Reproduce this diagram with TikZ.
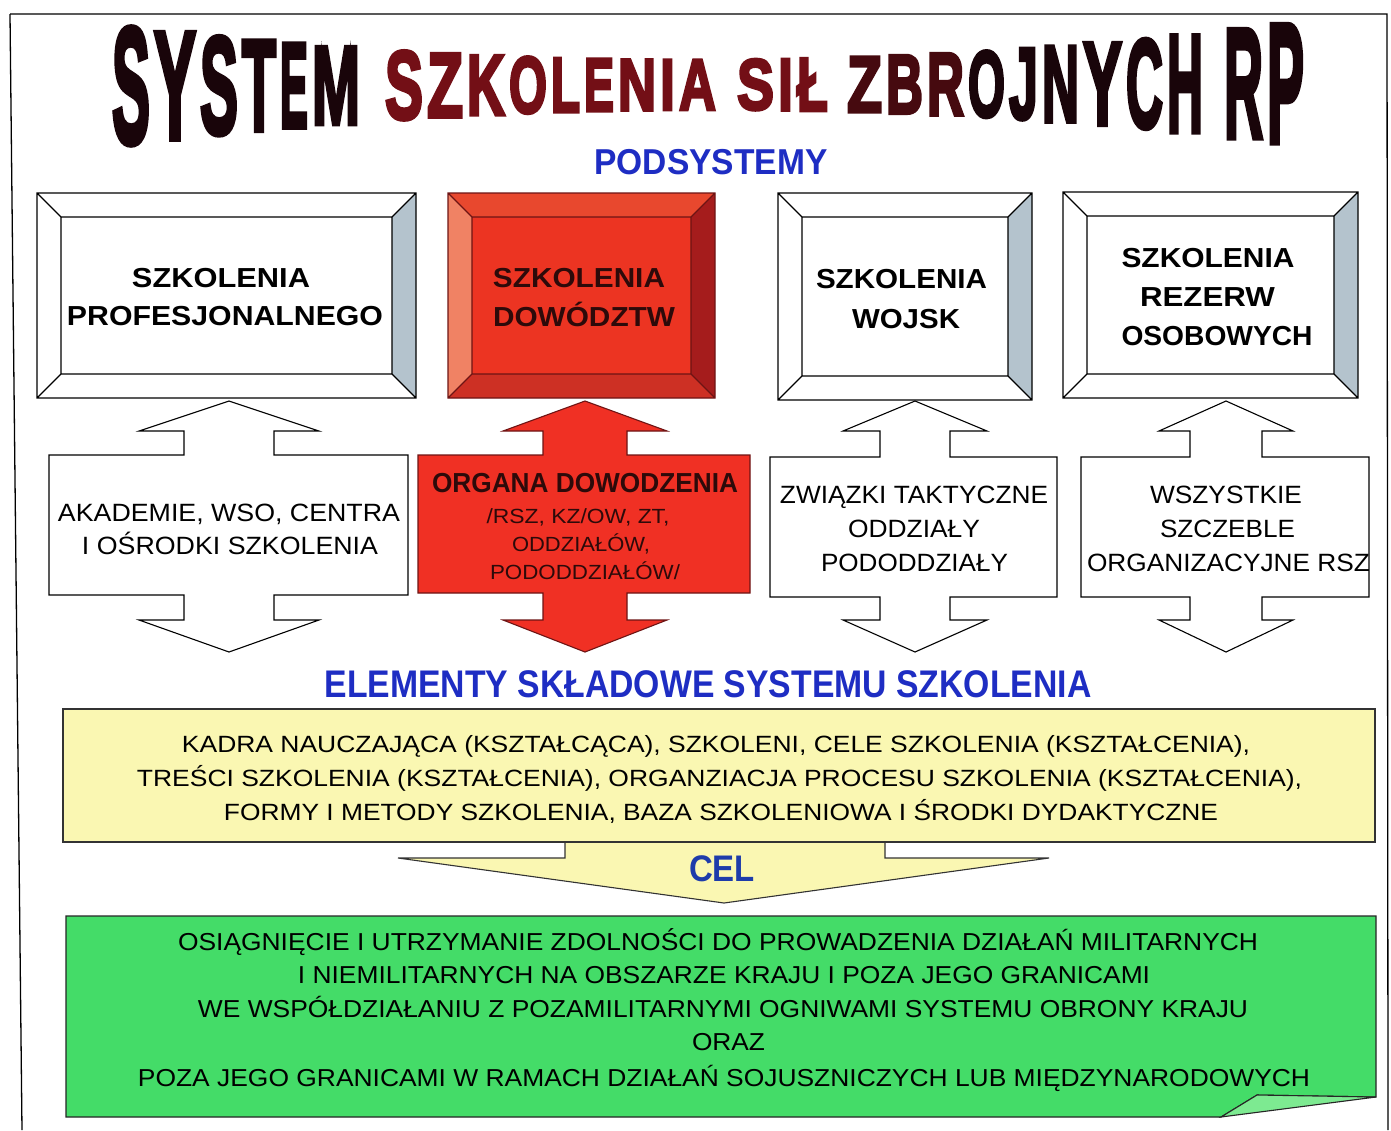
\documentclass[tikz,border=0pt]{standalone}
\usepackage{graphicx}
\usepackage{fontspec}
\setmainfont{Liberation Sans}
\newfontfamily\titlefont[FakeBold=4]{Liberation Sans Bold}
\definecolor{hblue}{RGB}{30,45,195}
\definecolor{celblue}{RGB}{30,60,170}
\definecolor{tc1}{RGB}{25,5,10}
\definecolor{tc2}{RGB}{115,15,22}
\definecolor{tc3}{RGB}{70,10,15}
\definecolor{bgrey}{RGB}{180,195,205}
\definecolor{rcenter}{RGB}{236,52,34}
\definecolor{rleft}{RGB}{240,130,100}
\definecolor{rtop}{RGB}{232,72,46}
\definecolor{rright}{RGB}{165,28,28}
\definecolor{rbottom}{RGB}{205,48,36}
\definecolor{rline}{RGB}{110,20,20}
\definecolor{rarrow}{RGB}{240,48,36}
\definecolor{yell}{RGB}{250,247,178}
\definecolor{grn}{RGB}{68,220,104}
\definecolor{grnflap}{RGB}{125,234,145}
\definecolor{rtext}{RGB}{45,10,10}
\newcommand\fw[2]{\resizebox{#1pt}{\height}{#2}}
\newcommand\bevelbox[9]{%
 \fill[#5] (#1,#2) -- (#3,#2) -- (#3-24,#2+24) -- (#1+24,#2+24) -- cycle;
 \fill[#6] (#1,#2) -- (#1+24,#2+24) -- (#1+24,#4-24) -- (#1,#4) -- cycle;
 \fill[#7] (#3,#2) -- (#3-24,#2+24) -- (#3-24,#4-24) -- (#3,#4) -- cycle;
 \fill[#8] (#1,#4) -- (#1+24,#4-24) -- (#3-24,#4-24) -- (#3,#4) -- cycle;
 \fill[#9] (#1+24,#2+24) rectangle (#3-24,#4-24);
 \draw[bevline] (#1,#2) rectangle (#3,#4) (#1+24,#2+24) rectangle (#3-24,#4-24)
   (#1,#2) -- (#1+24,#2+24) (#3,#2) -- (#3-24,#2+24) (#1,#4) -- (#1+24,#4-24) (#3,#4) -- (#3-24,#4-24);}
\newcommand\darrow[8]{%
 \draw[#1] (#6,401) -- (#6+#8,431) -- (#6+#7,431) -- (#6+#7,#4) -- (#3,#4) -- (#3,#5) -- (#6+#7,#5) -- (#6+#7,620) -- (#6+#8,620) -- (#6,652) -- (#6-#8,620) -- (#6-#7,620) -- (#6-#7,#5) -- (#2,#5) -- (#2,#4) -- (#6-#7,#4) -- (#6-#7,431) -- (#6-#8,431) -- cycle;}
\tikzset{
 frameline/.style={line width=1.3pt, black},
 bevline/.style={draw=black, line width=1.1pt},
 whitearrow/.style={fill=white, draw=black, line width=1.1pt},
 redarrow/.style={fill=rarrow, draw=rline, line width=1.1pt},
 txt/.style={inner sep=0pt, anchor=base},
 lab/.style={txt, font=\fontsize{27.5}{30}\selectfont\bfseries},
 mid/.style={txt, font=\fontsize{25}{28}\selectfont},
 redsmall/.style={txt, font=\fontsize{20.5}{24}\selectfont, text=rtext},
 head/.style={txt, font=\fontsize{36}{40}\selectfont\bfseries, text=hblue},
 body/.style={txt, font=\fontsize{23.5}{26}\selectfont},
 gbody/.style={txt, font=\fontsize{24.5}{28}\selectfont},
}
\begin{document}
\begin{tikzpicture}[x=1pt,y=-1pt]
\useasboundingbox (0,0) rectangle (1391,1130);
\fill[white] (0,0) rectangle (1391,1130);
% outer frame
\draw[frameline] (10,14) -- (1387,14) -- (1388,1130);
\draw[frameline] (10,14) -- (22,1130);
% title
\foreach \ch/\a/\b/\c in {S/110/152/tc1, Y/152/198/tc1, S/198/240/tc1, T/240/278/tc1, E/278/310/tc1, M/310/362/tc1,
  S/383/425/tc2, Z/425/465/tc2, K/465/507/tc2, O/507/549/tc2, L/549/582/tc2, E/582/616/tc2, N/616/658/tc2, I/658/677/tc2, A/677/718/tc2,
  S/735/776/tc2, I/776/795/tc2, Ł/795/830/tc2,
  Z/845/884/tc3, B/884/925/tc3, R/925/966/tc3, O/966/1007/tc1, J/1007/1040/tc1, N/1040/1081/tc1, Y/1081/1124/tc1, C/1124/1165/tc1, H/1165/1205/tc1,
  R/1222/1265/tc1, P/1265/1306/tc1}{
  \pgfmathsetmacro\xc{(\a+\b)/2}
  \pgfmathsetmacro\ww{\b-\a-4}
  \pgfmathsetmacro\hh{50+66*((\xc-705)/577)*((\xc-705)/577)}
  \pgfmathsetmacro\yc{86-(\xc-110)*0.002}
  \node[inner sep=0pt, text=\c] (t\a) at (\xc,\yc) {\resizebox{\ww pt}{\hh pt}{\titlefont \ch}};
}
\node[head] (pod) at (711,174) {\fw{233}{PODSYSTEMY}};
% top bevel boxes
\bevelbox{37}{193}{416}{398}{white}{white}{bgrey}{white}{white}
\begin{scope}[bevline/.style={draw=rline, line width=1.1pt}]
\bevelbox{448}{193}{715}{398}{rtop}{rleft}{rright}{rbottom}{rcenter}
\end{scope}
\bevelbox{778}{193}{1032}{400}{white}{white}{bgrey}{white}{white}
\bevelbox{1063}{192}{1358}{398}{white}{white}{bgrey}{white}{white}
\node[lab] (b1a) at (221,287) {\fw{178}{SZKOLENIA}};
\node[lab] (b1b) at (225,325) {\fw{316}{PROFESJONALNEGO}};
\node[lab, text=rtext] (b2a) at (579,287) {\fw{172}{SZKOLENIA}};
\node[lab, text=rtext] (b2b) at (584,326) {\fw{182}{DOWÓDZTW}};
\node[lab] (b3a) at (901.5,288) {\fw{171}{SZKOLENIA}};
\node[lab] (b3b) at (906,328) {\fw{108}{WOJSK}};
\node[lab] (b4a) at (1208,267) {\fw{173}{SZKOLENIA}};
\node[lab] (b4b) at (1207.5,306) {\fw{135}{REZERW}};
\node[lab] (b4c) at (1217,345) {\fw{191}{OSOBOWYCH}};
% double arrows
\darrow{whitearrow}{49}{408}{455}{595}{229}{45}{90}
\darrow{redarrow}{418}{750}{455}{593}{585}{42}{82}
\darrow{whitearrow}{770}{1057}{457}{597}{915}{35}{72}
\darrow{whitearrow}{1081}{1369}{457}{597}{1226}{36}{67}
\node[mid] (a1a) at (229,521) {\fw{342}{AKADEMIE, WSO, CENTRA}};
\node[mid] (a1b) at (230,554) {\fw{296}{I OŚRODKI SZKOLENIA}};
\node[lab, text=rtext] (a2a) at (585,492) {\fw{306}{ORGANA DOWODZENIA}};
\node[redsmall] (a2b) at (578,523) {\fw{183}{/RSZ, KZ/OW, ZT,}};
\node[redsmall] (a2c) at (581,551) {\fw{138}{ODDZIAŁÓW,}};
\node[redsmall] (a2d) at (585,579) {\fw{190}{PODODDZIAŁÓW/}};
\node[mid] (a3a) at (914,503) {\fw{268}{ZWIĄZKI TAKTYCZNE}};
\node[mid] (a3b) at (914,537) {\fw{132}{ODDZIAŁY}};
\node[mid] (a3c) at (914.5,571) {\fw{187}{PODODDZIAŁY}};
\node[mid] (a4a) at (1226,503) {\fw{152}{WSZYSTKIE}};
\node[mid] (a4b) at (1227.5,537) {\fw{135}{SZCZEBLE}};
\node[mid] (a4c) at (1228.5,571) {\fw{283}{ORGANIZACYJNE RSZ}};
% elements heading
\node[txt, font=\fontsize{38.5}{42}\selectfont\bfseries, text=hblue] (elem) at (708,697) {\fw{767}{ELEMENTY SKŁADOWE SYSTEMU SZKOLENIA}};
% yellow box and CEL arrow
\fill[yell] (565,840) -- (565,858) -- (398,858) -- (724,903) -- (1049,858) -- (885,858) -- (885,840) -- cycle;
\draw[line width=1.1pt, black!80] (565,842) -- (565,858) -- (398,858) -- (724,903) -- (1049,858) -- (885,858) -- (885,842);
\draw[fill=yell, draw=black!80, line width=1.1pt] (63,709) rectangle (1375,842);
\node[txt, font=\fontsize{37}{40}\selectfont\bfseries, text=celblue] (cel) at (722,881) {\fw{66}{CEL}};
\node[body] (y1) at (716,752.5) {\fw{1068}{KADRA NAUCZAJĄCA (KSZTAŁCĄCA), SZKOLENI, CELE SZKOLENIA (KSZTAŁCENIA),}};
\node[body] (y2) at (719.5,786.5) {\fw{1165}{TREŚCI SZKOLENIA (KSZTAŁCENIA), ORGANZIACJA PROCESU SZKOLENIA (KSZTAŁCENIA),}};
\node[body] (y3) at (721,820.5) {\fw{994}{FORMY I METODY SZKOLENIA, BAZA SZKOLENIOWA I ŚRODKI DYDAKTYCZNE}};
% green box
\draw[fill=grn, draw=black!85, line width=1.1pt] (66,916) -- (1376,916) -- (1376,1097) -- (1257,1095) -- (1221,1117) -- (66,1117) -- cycle;
\draw[fill=grnflap, draw=black!85, line width=1.1pt] (1221,1117) -- (1257,1095) -- (1376,1097) -- cycle;
\node[gbody] (g1) at (718,950) {\fw{1080}{OSIĄGNIĘCIE I UTRZYMANIE ZDOLNOŚCI DO PROWADZENIA DZIAŁAŃ MILITARNYCH}};
\node[gbody] (g2) at (724,983) {\fw{852}{I NIEMILITARNYCH NA OBSZARZE KRAJU I POZA JEGO GRANICAMI}};
\node[gbody] (g3) at (723,1017) {\fw{1050}{WE WSPÓŁDZIAŁANIU Z POZAMILITARNYMI OGNIWAMI SYSTEMU OBRONY KRAJU}};
\node[gbody] (g4) at (728.5,1050) {\fw{73}{ORAZ}};
\node[gbody] (g5) at (724,1086) {\fw{1172}{POZA JEGO GRANICAMI W RAMACH DZIAŁAŃ SOJUSZNICZYCH LUB MIĘDZYNARODOWYCH}};
\end{tikzpicture}
\end{document}
